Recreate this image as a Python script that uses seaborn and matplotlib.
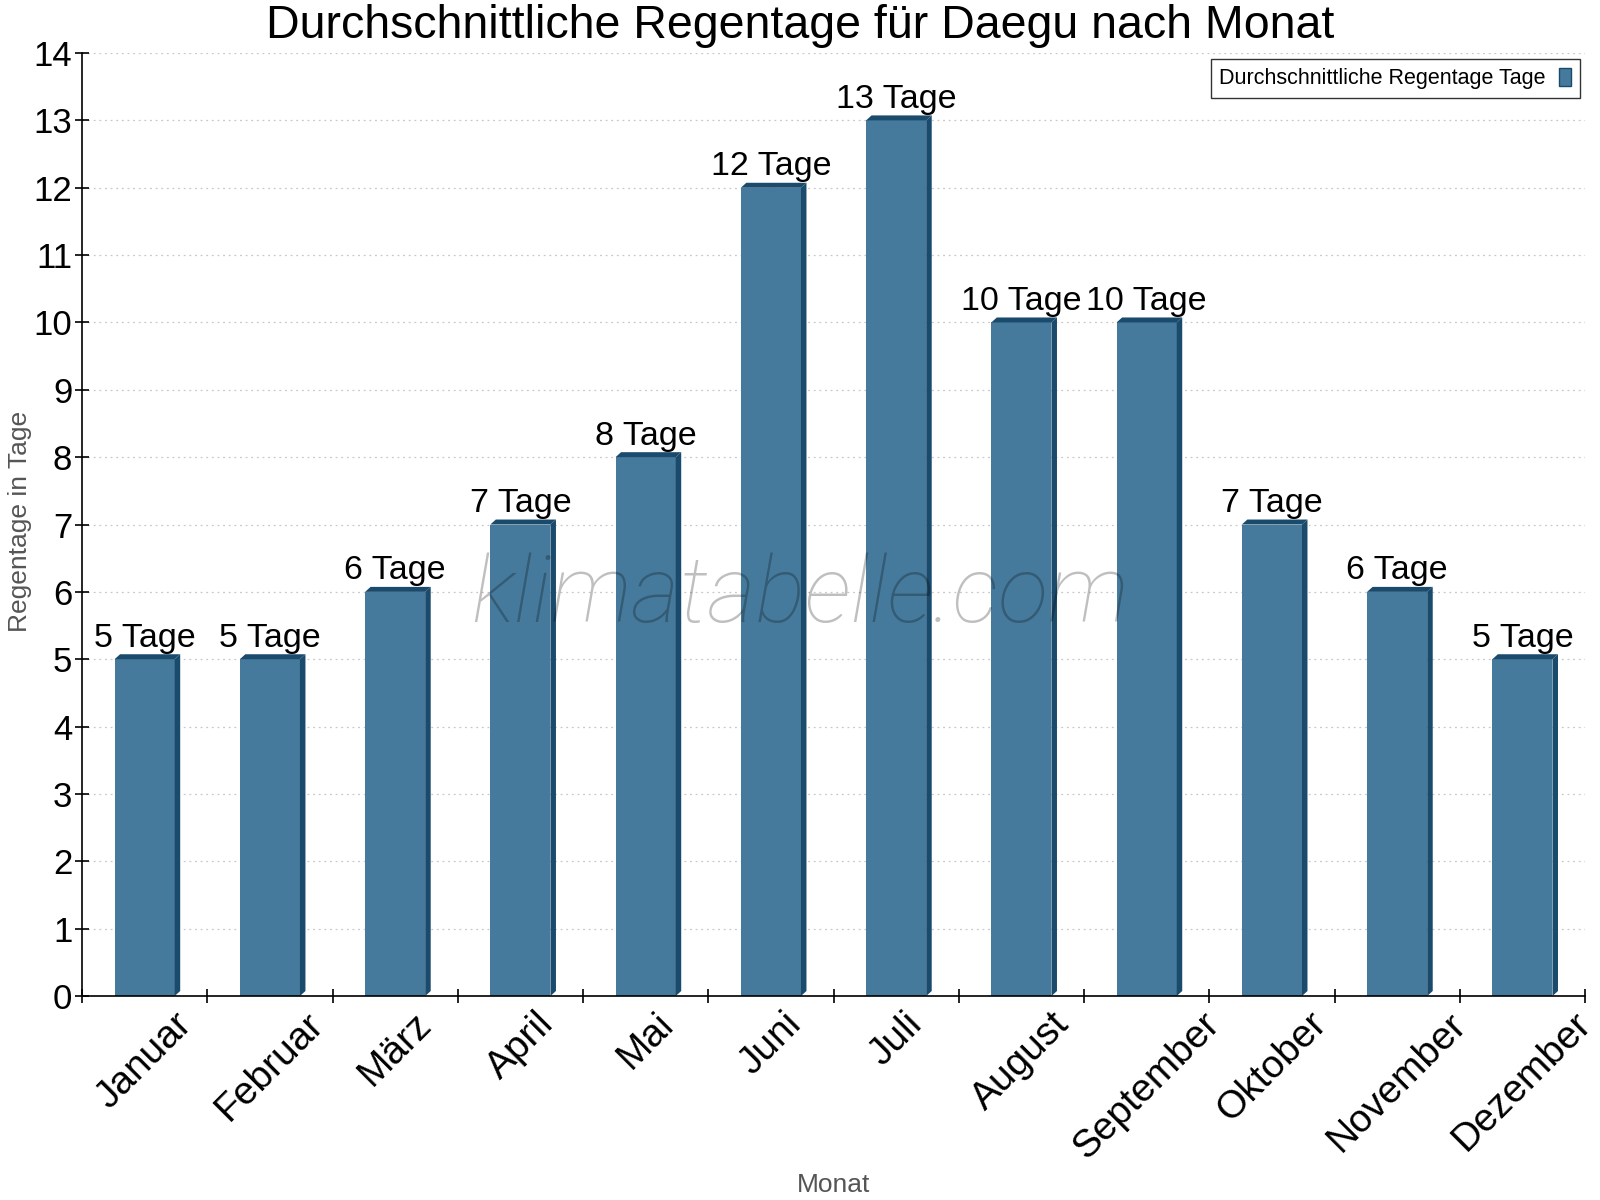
import matplotlib
matplotlib.use("Agg")
import matplotlib.pyplot as plt
from matplotlib.patches import Polygon
from matplotlib.ticker import MultipleLocator, FixedLocator
import seaborn as sns
import pandas as pd

months = ["Januar", "Februar", "März", "April", "Mai", "Juni", "Juli",
          "August", "September", "Oktober", "November", "Dezember"]
rain_days = [5, 5, 6, 7, 8, 12, 13, 10, 10, 7, 6, 5]
value_labels = [f"{v} Tage" for v in rain_days]
series_name = "Durchschnittliche Regentage Tage"
title = "Durchschnittliche Regentage für Daegu nach Monat"

FRONT = "#467a9c"
DARK = "#1a4a6c"

sns.set_theme(style="white")
plt.rcParams["font.family"] = ["Liberation Sans", "DejaVu Sans"]

df = pd.DataFrame({"Monat": months, "Tage": rain_days})

fig = plt.figure(figsize=(16, 12), dpi=100)
ax = fig.add_axes([0.05125, 0.17, 0.9394, 0.7858])

sns.barplot(data=df, x="Monat", y="Tage", color=FRONT, saturation=1,
            width=0.48, ax=ax, label=series_name, linewidth=0)

ax.set_ylim(0, 14)
ax.set_xlim(-0.5, len(months) - 0.5)

# pseudo-3D faces derived from each bar's geometry
dx, dy = 0.044, 0.074
for p in list(ax.patches):
    x0 = p.get_x()
    w = p.get_width()
    h = p.get_height()
    x1 = x0 + w
    side = Polygon([(x1, 0), (x1 + dx, dy), (x1 + dx, h + dy), (x1, h)],
                   closed=True, facecolor=DARK, edgecolor="none", zorder=p.get_zorder())
    top = Polygon([(x0, h), (x0 + dx, h + dy), (x1 + dx, h + dy), (x1, h)],
                  closed=True, facecolor=DARK, edgecolor="none", zorder=p.get_zorder())
    ax.add_patch(side)
    ax.add_patch(top)

# value labels
for i, (v, lab) in enumerate(zip(rain_days, value_labels)):
    ax.annotate(lab, (i, v), xytext=(0, 9), textcoords="offset points",
                ha="center", va="baseline", fontsize=24.5, color="black", zorder=5)

# grid
ax.yaxis.set_major_locator(MultipleLocator(1))
ax.grid(axis="y", color="#c8c8c8", linestyle=(0, (1.5, 3)), linewidth=0.9)
ax.grid(axis="x", visible=False)
ax.set_axisbelow(True)

# spines
for s in ["top", "right"]:
    ax.spines[s].set_visible(False)
for s in ["left", "bottom"]:
    ax.spines[s].set_color("black")
    ax.spines[s].set_linewidth(1.2)

# ticks
ax.tick_params(axis="y", which="major", direction="inout", length=10, width=1.2,
               labelsize=25, colors="black", left=True, pad=2)
ax.xaxis.set_minor_locator(FixedLocator([i - 0.5 for i in range(len(months) + 1)]))
ax.tick_params(axis="x", which="minor", direction="inout", length=10, width=1.2,
               bottom=True, color="black")
ax.tick_params(axis="x", which="major", length=0, labelsize=28, pad=7, labelcolor="black")
ax.set_xticks(range(len(months)))
ax.set_xticklabels(months, rotation=45, ha="center", va="top")

ax.set_xlabel("Monat", fontsize=19, color="#555555")
ax.xaxis.set_label_coords(0.5, -0.2)
ax.xaxis.label.set_va("center")
ax.set_ylabel("Regentage in Tage", fontsize=19, color="#555555")
ax.yaxis.set_label_coords(-0.041, 0.503)
ax.yaxis.label.set_va("center")

fig.suptitle(title, fontsize=33.5, color="black", x=0.5, y=0.997, va="top")

leg = ax.legend(loc="upper right", fontsize=15.5, frameon=True, fancybox=False,
                markerfirst=False, handlelength=0.6, handleheight=0.9,
                borderpad=0.4, handletextpad=0.6, borderaxespad=0,
                labelcolor="black", bbox_to_anchor=(0.9967, 0.9936))
leg.get_frame().set_edgecolor("black")
leg.get_frame().set_linewidth(1)
for h in leg.legend_handles:
    h.set_edgecolor(DARK)
    h.set_linewidth(1)

fig.text(0.5, 0.5025, "klimatabelle.com", fontsize=67, family="Roboto",
         fontweight="light", style="italic", color="black", alpha=0.25,
         ha="center", va="center", zorder=10)

fig.savefig("out.png", dpi=100)
